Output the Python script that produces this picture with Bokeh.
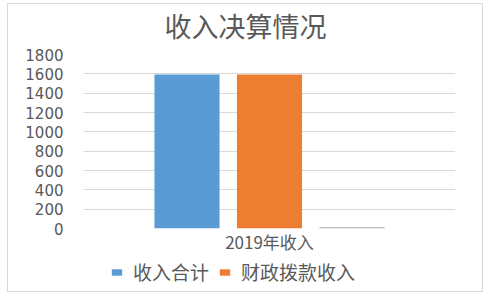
from bokeh.plotting import figure
from bokeh.layouts import column
from bokeh.models import ColumnDataSource, FactorRange, FixedTicker, Legend, LegendItem, Label, Range1d
from bokeh.transform import dodge
from bokeh.embed import file_html
from bokeh.resources import INLINE

# ---- data ----
categories = ["2019年收入"]
series_names = ["收入合计", "财政拨款收入", "其他收入"]
series_values = [1592, 1592, 12]
series_colors = ["#5B9BD5", "#ED7D31", "#A5A5A5"]
legend_series = ["收入合计", "财政拨款收入"]
y_ticks = [0, 200, 400, 600, 800, 1000, 1200, 1400, 1600, 1800]
title_text = "收入决算情况"

TEXT = "#595959"
GRID = "#D9D9D9"
W = 474
FRAME_W = 372  # frames of all strips are aligned by the column layout

# ---- title strip ----
pt = figure(width=W, height=40, x_range=(0, FRAME_W), y_range=(0, 40), title=None,
            x_axis_type=None, y_axis_type=None, output_backend="svg",
            toolbar_location=None, min_border=0)
pt.outline_line_color = None
pt.grid.grid_line_color = None
pt.add_layout(Label(x=162, y=19, text=title_text, text_align="center", text_baseline="middle",
                    text_font="Noto Sans CJK SC", text_font_size="27px", text_color=TEXT))

# ---- main chart ----
x_range = FactorRange(*categories)
p = figure(width=W, height=212, x_range=x_range, y_range=(0, 1800), title=None,
           output_backend="svg", toolbar_location=None,
           min_border_left=75, min_border_right=27, min_border_top=10, min_border_bottom=27)
p.outline_line_color = None

bar_w = 0.175
step = 0.2218
sources = {}
for name, val in zip(series_names, series_values):
    sources[name] = ColumnDataSource(dict(cat=categories, val=[val]))
for i, (name, col) in enumerate(zip(series_names, series_colors)):
    p.vbar(x=dodge("cat", (i - 1) * step, range=x_range), top="val", width=bar_w,
           source=sources[name], fill_color=col, line_color=None)

p.yaxis.ticker = FixedTicker(ticks=y_ticks)
p.yaxis.axis_line_color = None
p.yaxis.major_tick_line_color = None
p.yaxis.minor_tick_line_color = None
p.yaxis.major_label_text_font = "DejaVu Sans"
p.yaxis.major_label_text_font_size = "15px"
p.yaxis.major_label_text_color = TEXT
p.yaxis.major_label_standoff = 14

p.xaxis.axis_line_color = None
p.xaxis.major_tick_line_color = None
p.xaxis.minor_tick_line_color = None
p.xaxis.major_label_text_font = "Noto Sans CJK SC"
p.xaxis.major_label_text_font_size = "17px"
p.xaxis.major_label_text_color = TEXT
p.xaxis.major_label_standoff = -6

p.xgrid.grid_line_color = None
p.ygrid.grid_line_color = GRID
p.ygrid.grid_line_width = 1

# ---- legend strip (same series, bars kept out of its visible range) ----
pl = figure(width=W, height=35, x_range=x_range, y_range=Range1d(1900, 2000), title=None,
            x_axis_type=None, y_axis_type=None, output_backend="svg",
            toolbar_location=None, min_border=0)
pl.outline_line_color = None
pl.grid.grid_line_color = None
leg_r = {}
for i, (name, col) in enumerate(zip(series_names, series_colors)):
    leg_r[name] = pl.vbar(x=dodge("cat", (i - 1) * step, range=x_range), top="val", width=bar_w,
                          source=sources[name], fill_color=col, line_color=None)

items = [LegendItem(label=n, renderers=[leg_r[n]]) for n in legend_series]
legend = Legend(items=items, location=(27, 6), orientation="horizontal",
                border_line_color=None, background_fill_alpha=0,
                glyph_width=13, glyph_height=8, label_standoff=10, spacing=9,
                padding=2, margin=0, label_text_font_size="19px",
                label_text_color=TEXT, label_text_font="Noto Sans CJK SC")
pl.add_layout(legend, "center")

layout = column(pt, p, pl, spacing=0)
layout.margin = (4, 8, 6, 8)
layout.styles = {"outline": "1px solid #D9D9D9"}

open("out.html", "w").write(file_html(layout, INLINE))
